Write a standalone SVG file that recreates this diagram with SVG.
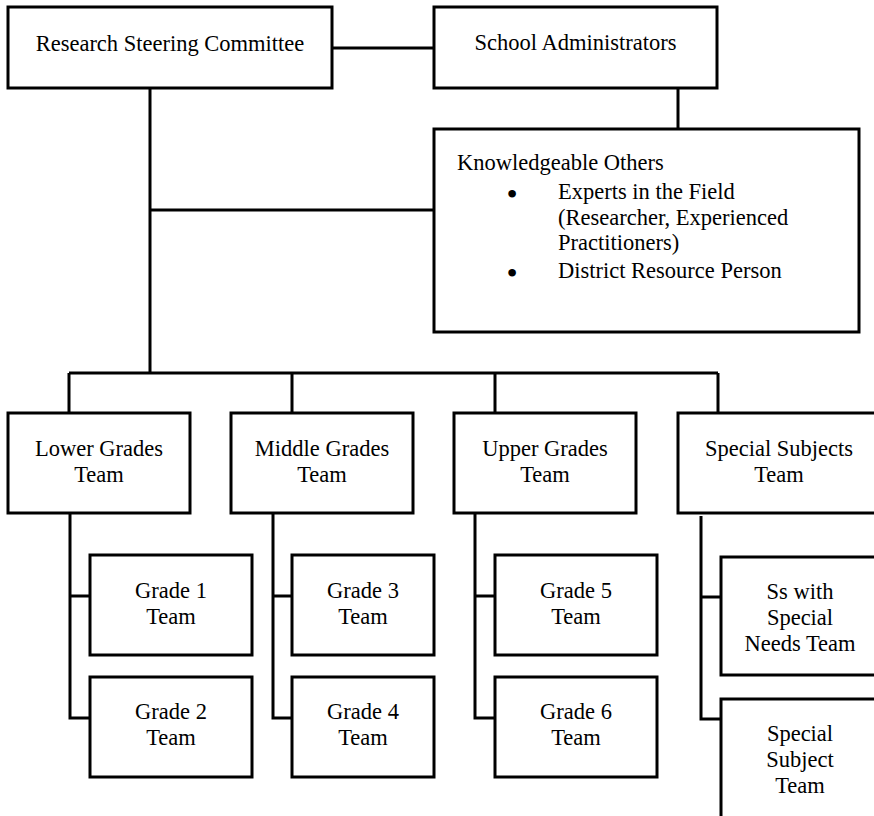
<svg xmlns="http://www.w3.org/2000/svg" width="874" height="816" viewBox="0 0 874 816">
<style>
.box{fill:#fff;stroke:#000;stroke-width:3}
.ln{fill:none;stroke:#000;stroke-width:3}
text{font-family:"Liberation Serif","Times New Roman",serif;font-size:22.5px;fill:#000}
.c{text-anchor:middle}
.b{font-size:32px}
</style>
<rect width="874" height="816" fill="#fff"/>
<g id="connectors">
<path class="ln" d="M332 48H434"/>
<path class="ln" d="M678 88V129"/>
<path class="ln" d="M150 88V373"/>
<path class="ln" d="M150 210H434"/>
<path class="ln" d="M69 373H718"/>
<path class="ln" d="M69 373V413M292 373V413M495 373V413M718 373V413"/>
<path class="ln" d="M70 513V718H90M70 596H90"/>
<path class="ln" d="M273 513V718H292M273 596H292"/>
<path class="ln" d="M475 513V718H495M475 596H495"/>
<path class="ln" d="M701 516V719H721M701 597H721"/>
</g>
<g id="rsc"><rect class="box" x="8" y="7" width="324" height="81"/><text class="c" x="170" y="51">Research Steering Committee</text></g>
<g id="sa"><rect class="box" x="434" y="7" width="283" height="81"/><text class="c" x="575.5" y="50">School Administrators</text></g>
<g id="ko"><rect class="box" x="434" y="129" width="425" height="203"/>
<text x="457" y="170">Knowledgeable Others</text>
<text class="c b" x="512" y="204.5">•</text>
<text x="558" y="199">Experts in the Field</text>
<text x="558" y="225">(Researcher, Experienced</text>
<text x="558" y="250">Practitioners)</text>
<text class="c b" x="512" y="283.5">•</text>
<text x="558" y="278">District Resource Person</text>
</g>
<g id="lower"><rect class="box" x="8" y="413" width="182" height="100"/><text class="c" x="99" y="456">Lower Grades</text><text class="c" x="99" y="482">Team</text></g>
<g id="middle"><rect class="box" x="231" y="413" width="182" height="100"/><text class="c" x="322" y="456">Middle Grades</text><text class="c" x="322" y="482">Team</text></g>
<g id="upper"><rect class="box" x="454" y="413" width="182" height="100"/><text class="c" x="545" y="456">Upper Grades</text><text class="c" x="545" y="482">Team</text></g>
<g id="special"><rect class="box" x="678" y="413" width="202" height="100"/><text class="c" x="779" y="456">Special Subjects</text><text class="c" x="779" y="482">Team</text></g>
<g id="g1"><rect class="box" x="90" y="555" width="162" height="100"/><text class="c" x="171" y="598">Grade 1</text><text class="c" x="171" y="624">Team</text></g>
<g id="g2"><rect class="box" x="90" y="677" width="162" height="100"/><text class="c" x="171" y="719">Grade 2</text><text class="c" x="171" y="745">Team</text></g>
<g id="g3"><rect class="box" x="292" y="555" width="142" height="100"/><text class="c" x="363" y="598">Grade 3</text><text class="c" x="363" y="624">Team</text></g>
<g id="g4"><rect class="box" x="292" y="677" width="142" height="100"/><text class="c" x="363" y="719">Grade 4</text><text class="c" x="363" y="745">Team</text></g>
<g id="g5"><rect class="box" x="495" y="555" width="162" height="100"/><text class="c" x="576" y="598">Grade 5</text><text class="c" x="576" y="624">Team</text></g>
<g id="g6"><rect class="box" x="495" y="677" width="162" height="100"/><text class="c" x="576" y="719">Grade 6</text><text class="c" x="576" y="745">Team</text></g>
<g id="ssn"><rect class="box" x="721" y="557" width="158" height="118"/><text class="c" x="800" y="599">Ss with</text><text class="c" x="800" y="625">Special</text><text class="c" x="800" y="651">Needs Team</text></g>
<g id="sst"><rect class="box" x="721" y="699" width="158" height="130"/><text class="c" x="800" y="741">Special</text><text class="c" x="800" y="767">Subject</text><text class="c" x="800" y="793">Team</text></g>
</svg>
